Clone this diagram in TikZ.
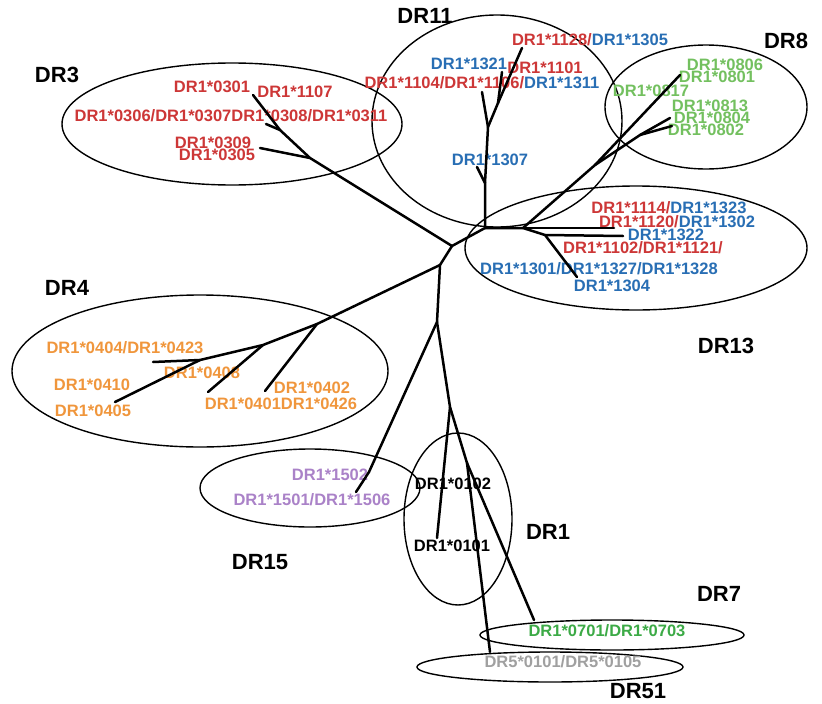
\documentclass[tikz,border=0pt]{standalone}
\usepackage{fontspec}
\setmainfont{Liberation Sans}
\usetikzlibrary{shapes.geometric}
\definecolor{cr}{RGB}{205,55,55}
\definecolor{cb}{RGB}{40,110,180}
\definecolor{cg}{RGB}{115,192,95}
\definecolor{cgs}{RGB}{60,170,70}
\definecolor{co}{RGB}{240,150,60}
\definecolor{cp}{RGB}{170,130,200}
\definecolor{cgr}{RGB}{160,160,160}
\begin{document}
\begin{tikzpicture}[x=1pt,y=-1pt,
  branch/.style={line width=2.5pt, line cap=round, line join=round},
  grp/.style={draw, ellipse, line width=1.4pt, inner sep=0pt},
  lab/.style={inner sep=0pt, font=\fontsize{16.5}{18}\selectfont\bfseries},
  glab/.style={inner sep=0pt, font=\fontsize{22}{24}\selectfont\bfseries}]
\useasboundingbox (0,0) rectangle (822,704);
\fill[white] (0,0) rectangle (822,704);
% group ellipses
\node[grp, minimum width=340pt, minimum height=122pt] (e3) at (232,124) {};
\node[grp, minimum width=250pt, minimum height=212pt] (e11) at (497,121) {};
\node[grp, minimum width=202pt, minimum height=124pt] (e8) at (706,107) {};
\node[grp, minimum width=342pt, minimum height=124pt] (e13) at (636,248) {};
\node[grp, minimum width=376pt, minimum height=152pt] (e4) at (200,371) {};
\node[grp, minimum width=220pt, minimum height=78pt] (e15) at (310,488) {};
\node[grp, minimum width=108pt, minimum height=172pt] (e1) at (458,519) {};
\node[grp, minimum width=264pt, minimum height=30pt] (e7) at (612,635) {};
\node[grp, minimum width=266pt, minimum height=30pt] (e51) at (550,667) {};
% group labels
\node[glab] (gDR3) at (57,75) {DR3};
\node[glab] (gDR11) at (425,16) {DR11};
\node[glab] (gDR8) at (786,41) {DR8};
\node[glab] (gDR4) at (67,288) {DR4};
\node[glab] (gDR13) at (726,346) {DR13};
\node[glab] (gDR15) at (260,562) {DR15};
\node[glab] (gDR1) at (548,532) {DR1};
\node[glab] (gDR7) at (719,594) {DR7};
\node[glab] (gDR51) at (638,691) {DR51};
% DR3 labels
\node[lab, text=cr] (l0301) at (212,87) {DR1*0301};
\node[lab, text=cr] (l1107) at (295,92) {DR1*1107};
\node[lab, text=cr] (l0306) at (231,116) {DR1*0306/DR1*0307DR1*0308/DR1*0311};
\node[lab, text=cr] (l0309) at (213,143) {DR1*0309};
\node[lab, text=cr] (l0305) at (217,155) {DR1*0305};
% DR11 labels
\node[lab] (l1128) at (590,40) {\textcolor{cr}{DR1*1128/}\textcolor{cb}{DR1*1305}};
\node[lab, text=cb] (l1321) at (469,64) {DR1*1321};
\node[lab, text=cr] (l1101) at (545,68) {DR1*1101};
\node[lab] (l1104) at (482,83) {\textcolor{cr}{DR1*1104/DR1*1106/}\textcolor{cb}{DR1*1311}};
\node[lab, text=cb] (l1307) at (490,160) {DR1*1307};
% DR8 labels
\node[lab, text=cg] (l0806) at (725,65) {DR1*0806};
\node[lab, text=cg] (l0801) at (717,77) {DR1*0801};
\node[lab, text=cg] (l0817) at (651,91) {DR1*0817};
\node[lab, text=cg] (l0813) at (710,106) {DR1*0813};
\node[lab, text=cg] (l0804) at (712,118) {DR1*0804};
\node[lab, text=cg] (l0802) at (706,130) {DR1*0802};
% DR13 labels
\node[lab] (l1114) at (669,208) {\textcolor{cr}{DR1*1114/}\textcolor{cb}{DR1*1323}};
\node[lab] (l1120) at (677,222) {\textcolor{cr}{DR1*1120/}\textcolor{cb}{DR1*1302}};
\node[lab, text=cb] (l1322) at (666,235) {DR1*1322};
\node[lab, text=cr] (l1102) at (643,248) {DR1*1102/DR1*1121/};
\node[lab, text=cb] (l1301) at (599,269) {DR1*1301/DR1*1327/DR1*1328};
\node[lab, text=cb] (l1304) at (612,286) {DR1*1304};
% DR4 labels
\node[lab, text=co] (l0404) at (125,348) {DR1*0404/DR1*0423};
\node[lab, text=co] (l0408) at (202,373) {DR1*0408};
\node[lab, text=co] (l0410) at (92,385) {DR1*0410};
\node[lab, text=co] (l0405) at (93,411) {DR1*0405};
\node[lab, text=co] (l0402) at (312,388) {DR1*0402};
\node[lab, text=co] (l0401) at (281,404) {DR1*0401DR1*0426};
% DR15 labels
\node[lab, text=cp] (l1502) at (330,475) {DR1*1502};
\node[lab, text=cp] (l1501) at (312,500) {DR1*1501/DR1*1506};
% DR1 labels
\node[lab] (l0102) at (453,484) {DR1*0102};
\node[lab] (l0101) at (452,546) {DR1*0101};
% DR7, DR51
\node[lab, text=cgs] (l0701) at (607,631) {DR1*0701/DR1*0703};
\node[lab, text=cgr] (l5101) at (563,662) {DR5*0101/DR5*0105};
% tree coordinates
\coordinate (A) at (452,246);
\coordinate (r1) at (310,158);
\coordinate (r2) at (280,130);
\coordinate (t0301) at (253,95);
\coordinate (t0308) at (266,124);
\coordinate (t0309) at (260,148);
\coordinate (E) at (485,228);
\coordinate (F) at (485,183);
\coordinate (t1307) at (477,167);
\coordinate (G) at (488,127);
\coordinate (t1104) at (482,92);
\coordinate (H) at (498,103);
\coordinate (t1321) at (502,72);
\coordinate (t1128) at (522,48);
\coordinate (I) at (523,228);
\coordinate (J) at (595,165);
\coordinate (t0806) at (680,75);
\coordinate (J2) at (640,135);
\coordinate (t0813) at (670,118);
\coordinate (t0802) at (672,126);
\coordinate (t1114) at (614,228);
\coordinate (L) at (545,235);
\coordinate (t1322) at (623,236);
\coordinate (t1301) at (577,277);
\coordinate (B) at (440,265);
\coordinate (M) at (317,324);
\coordinate (t0402) at (265,391);
\coordinate (N) at (263,345);
\coordinate (t0401) at (208,392);
\coordinate (O) at (200,360);
\coordinate (t0404) at (153,362);
\coordinate (t0405) at (115,402);
\coordinate (C) at (437,322);
\coordinate (P) at (369,472);
\coordinate (t1501) at (356,492);
\coordinate (D) at (450,407);
\coordinate (t0101) at (437,538);
\coordinate (Q) at (467,463);
\coordinate (t51) at (490,652);
\coordinate (t07) at (534,620);
% tree branches
\draw[branch] (t0301) -- (r2) -- (r1) -- (A);
\draw[branch] (t0308) -- (r2);
\draw[branch] (t0309) -- (r1);
\draw[branch] (A) -- (E) -- (F) -- (G) -- (H) -- (t1128);
\draw[branch] (F) -- (t1307);
\draw[branch] (G) -- (t1104);
\draw[branch] (H) -- (t1321);
\draw[branch] (E) -- (I) -- (J) -- (t0806);
\draw[branch] (J) -- (J2) -- (t0813);
\draw[branch] (J2) -- (t0802);
\draw[branch] (I) -- (t1114);
\draw[branch] (I) -- (L) -- (t1301);
\draw[branch] (L) -- (t1322);
\draw[branch] (A) -- (B) -- (M) -- (N) -- (O) -- (t0404);
\draw[branch] (M) -- (t0402);
\draw[branch] (N) -- (t0401);
\draw[branch] (O) -- (t0405);
\draw[branch] (B) -- (C) -- (P) -- (t1501);
\draw[branch] (C) -- (D) -- (t0101);
\draw[branch] (D) -- (Q) -- (t51);
\draw[branch] (Q) -- (t07);
\end{tikzpicture}
\end{document}
